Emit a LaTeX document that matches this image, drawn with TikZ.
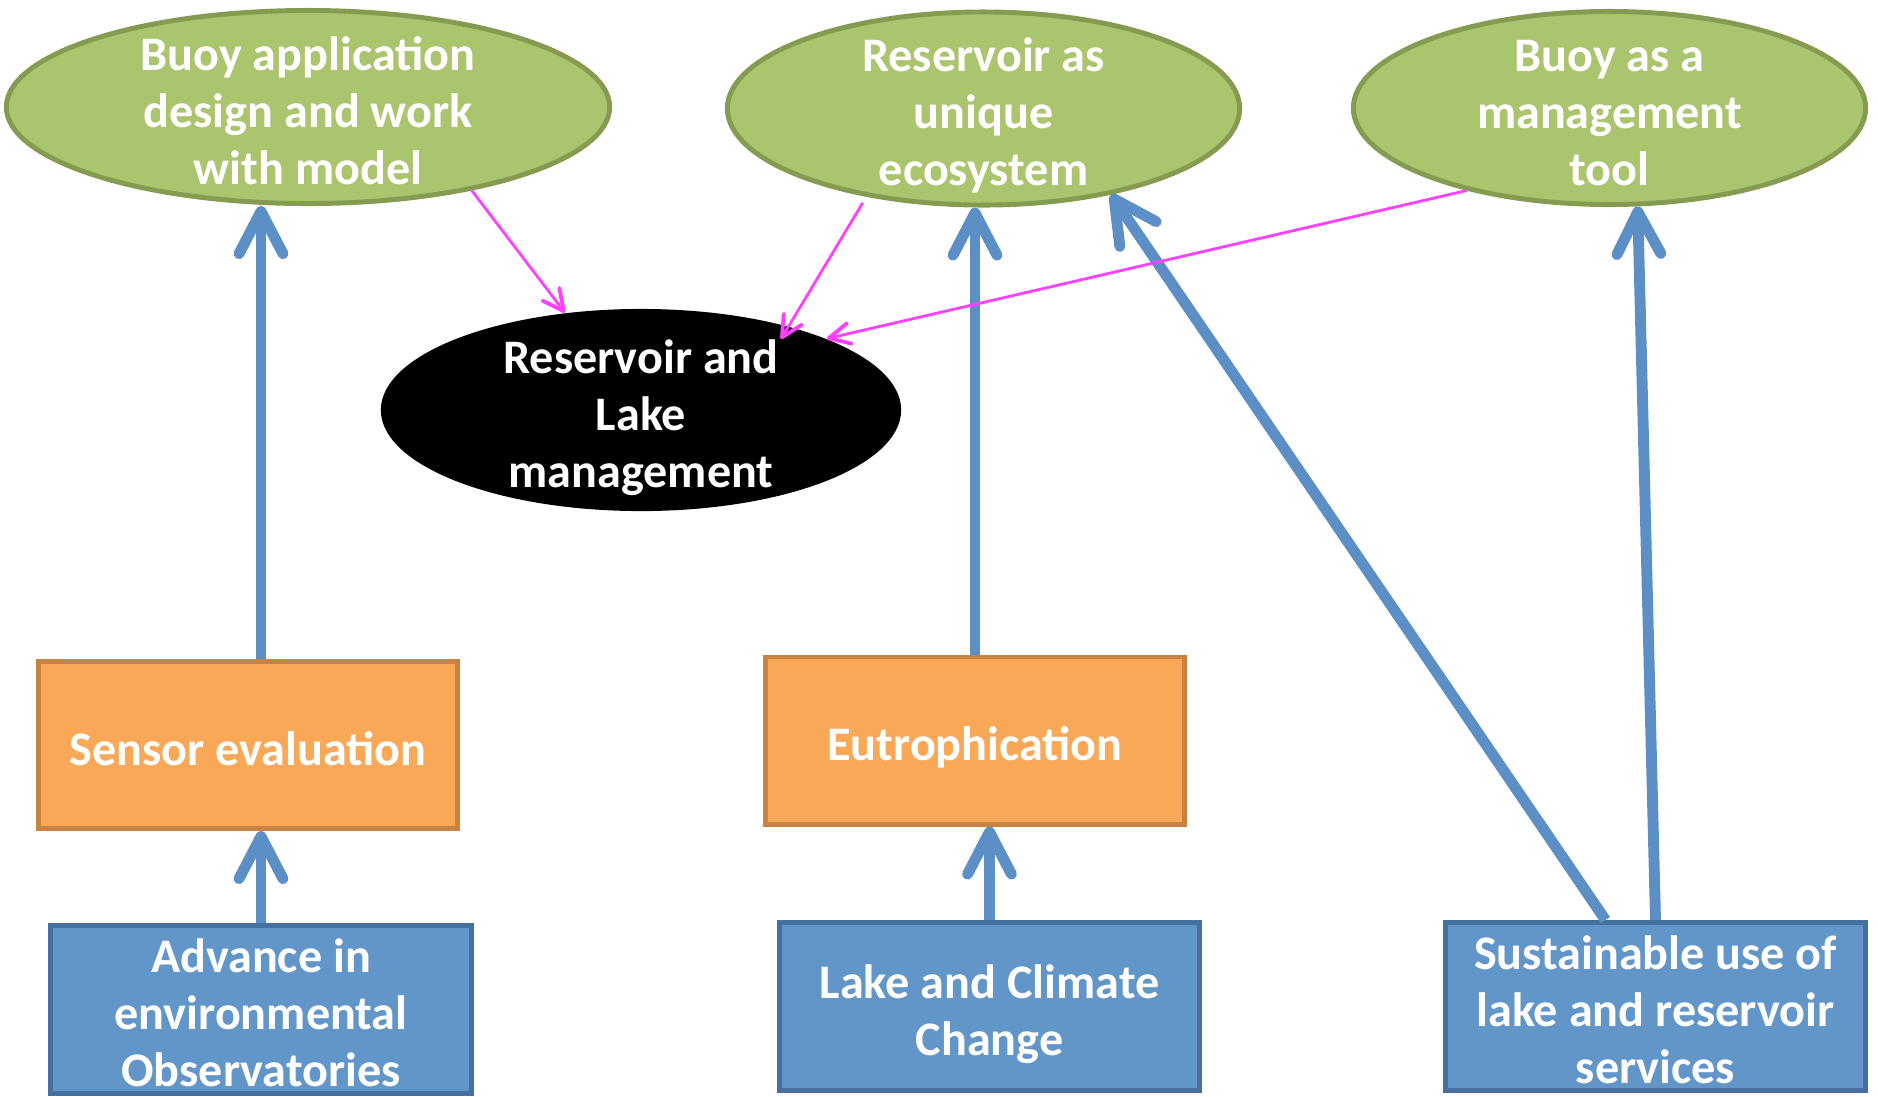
\documentclass[tikz,border=0pt]{standalone}
\usepackage{fontspec}
\setmainfont{Carlito}
\usetikzlibrary{arrows.meta}
\usetikzlibrary{calc}
\usetikzlibrary{positioning}
\usetikzlibrary{shapes.geometric}
\definecolor{leafgreen}{RGB}{171,196,110}
\definecolor{leafdark}{RGB}{132,155,80}
\definecolor{peach}{RGB}{248,168,86}
\definecolor{peachdark}{RGB}{200,130,65}
\definecolor{skyblue}{RGB}{98,150,200}
\definecolor{skydark}{RGB}{70,112,160}
\definecolor{arrowblue}{RGB}{91,143,198}
\definecolor{linkpink}{RGB}{255,64,255}
\newcommand{\boxfont}{\bfseries\fontsize{13.7pt}{16.2pt}\selectfont}
\newcommand{\lift}{\rule{0pt}{11.6pt}}
\tikzset{
	bubble/.style={
		ellipse,
		fill=leafgreen,
		draw=leafdark, line width=1.4pt,
		minimum width=5.12cm,
		minimum height=1.93cm,
		inner xsep=0pt, inner ysep=-0.5cm,
		text=white, font=\boxfont,
		text depth=0pt,
		align=center},
	target/.style={
		ellipse,
		fill=black,
		minimum width=5.2cm,
		minimum height=2.02cm,
		inner xsep=0pt, inner ysep=-0.5cm,
		text=white, font=\boxfont,
		text depth=0pt,
		align=center},
	topic/.style={
		rectangle,
		fill=peach,
		draw=peachdark, line width=1.4pt,
		minimum width=4.19cm,
		minimum height=1.67cm,
		inner sep=0pt,
		text=white, font=\boxfont,
		text depth=0pt,
		align=center},
	driver/.style={
		rectangle,
		fill=skyblue,
		draw=skydark, line width=1.4pt,
		minimum width=4.2cm,
		minimum height=1.68cm,
		inner sep=0pt,
		text=white, font=\boxfont,
		text depth=0pt,
		align=center},
	line/.style={draw=arrowblue, line width=3.1pt, -{Straight Barb[length=12pt,width=12.5pt,round]}},
	link/.style={draw=linkpink, line width=0.8pt, -{Straight Barb[length=6pt,width=6pt,line width=1.1pt,round]}},
}
\begin{document}
\begin{tikzpicture}[x=0.01cm, y=0.01cm]
	\useasboundingbox (0,0) rectangle (1878,-1096);
	% top row
	\node[bubble, minimum width=6.03cm] (buoyapp) at (308,-107) {\lift Buoy application\\design and work\\with model};
	\node[bubble] (resv) at (983.5,-108.5) {\lift Reservoir as\\unique\\ecosystem};
	\node[bubble] (tool) at (1609.5,-108) {\lift Buoy as a\\management\\tool};
	\node[target] (mgmt) at (641,-410) {\lift Reservoir and\\Lake\\management};
	% middle row
	\node[topic] (sensor) at (248,-745) {\lift Sensor evaluation};
	\node[topic] (eutro) at (975,-740.5) {\lift Eutrophication};
	% bottom row
	\node[driver] (advance) at (261,-1009.5) {\lift Advance in\\environmental\\Observatories};
	\node[driver] (lake) at (989.5,-1006.5) {\lift Lake and Climate\\Change};
	\node[driver] (sust) at (1655.5,-1006.5) {\lift Sustainable use of\\lake and reservoir\\services};

	\draw[line] (advance.north) -- (advance.north |- sensor.south);
	\draw[line] (sensor.north -| advance.north) -- (advance.north |- buoyapp.south);
	\draw[line] (lake.north) -- (lake.north |- eutro.south);
	\draw[line] (eutro.north) -- (eutro.north |- resv.south);
	\draw[line] ([xshift=-0.5cm]sust.north) -- (resv.-34);
	\draw[line] (sust.north) -- (tool.-74);

	\draw[link] (buoyapp.-27) -- (mgmt.128);
	\draw[link, shorten <=2pt] (resv.217) -- ($(mgmt.center)+(140,71)$);
	\draw[link] (tool.210) -- (mgmt.21);
\end{tikzpicture}
\end{document}
